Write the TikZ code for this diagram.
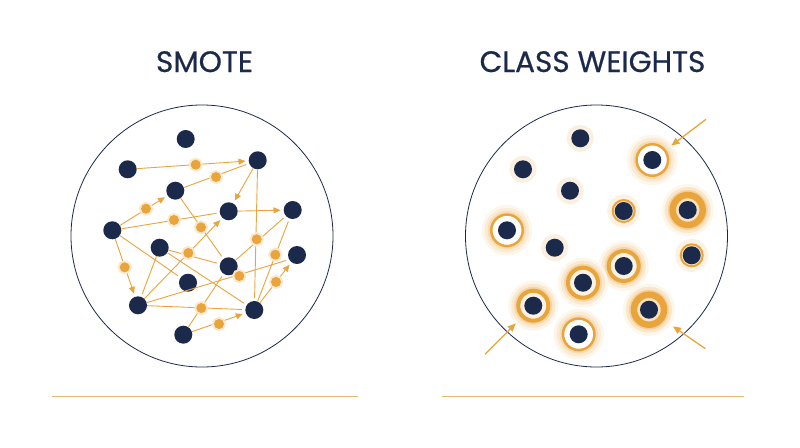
\documentclass[tikz,border=0pt]{standalone}
\usepackage{fontspec}
\setmainfont{Poppins}
\newfontfamily\titlefont[FakeBold=0.6]{Poppins}
\usetikzlibrary{arrows.meta}

\definecolor{navy}{RGB}{27,42,75}
\definecolor{gold}{RGB}{233,164,60}
\definecolor{rulecol}{RGB}{226,184,118}

\begin{document}
\begin{tikzpicture}[x=1pt, y=-1pt, >={Triangle[length=7pt,width=6pt]},
    title/.style={anchor=base, text=navy, font=\titlefont\fontsize{29.5}{34}\selectfont},
    frame/.style={draw=navy, line width=0.8pt},
    pt/.style={circle, fill=navy, inner sep=0pt, minimum size=18pt},
    syn/.style={circle, fill=gold, inner sep=0pt, minimum size=10pt, preaction={draw=gold!25, line width=4pt}},
    link/.style={color=gold, line width=0.9pt, shorten >=3pt},
    wdot/.style={pt, preaction={draw=gold!16, line width=9pt}},
    wpt/.style={circle, inner sep=0pt, draw=gold,
        path picture={\fill[navy] (path picture bounding box.center) circle (9pt);}},
    ringgap/.style={wpt, minimum size=31.5pt, fill=white, line width=2.5pt,
        preaction={draw=gold!10, line width=19pt}, preaction={draw=gold!22, line width=13pt},
        preaction={draw=gold!38, line width=7pt}},
    ringthin/.style={wpt, minimum size=22pt, fill=gold!25, line width=2pt,
        preaction={draw=gold!15, line width=11pt}},
    ringmid/.style={wpt, minimum size=30pt, fill=gold!14, line width=4pt,
        preaction={draw=gold!10, line width=20pt}, preaction={draw=gold!24, line width=14pt},
        preaction={draw=gold!45, line width=8pt}},
    ringthick/.style={wpt, minimum size=30pt, fill=gold!32, line width=6.5pt,
        preaction={draw=gold!10, line width=22pt}, preaction={draw=gold!26, line width=16pt},
        preaction={draw=gold!50, line width=10pt}},
    pointer/.style={color=gold, line width=1.3pt, >={Triangle[length=8pt,width=7pt]}}]

    \useasboundingbox (0,0) rectangle (800,447);

    % titles
    \node[title] (smote) at (204.5,72) {SMOTE};
    \node[title] (weights) at (592.5,72) {CLASS WEIGHTS};

    % frames and rules
    \draw[frame] (202,236) circle (131pt);
    \draw[frame] (596.5,236) circle (131pt);
    \draw[rulecol, line width=0.8pt] (52,396) -- (358,396);
    \draw[rulecol, line width=0.8pt] (442,396) -- (744,396);

    % SMOTE: minority samples
    \node[pt] (m1) at (185.7,139) {};
    \node[pt] (m2) at (127.7,169.3) {};
    \node[pt] (m3) at (257.7,160.3) {};
    \node[pt] (m4) at (175.3,190.7) {};
    \node[pt] (m5) at (228.7,211.3) {};
    \node[pt] (m6) at (292.7,210) {};
    \node[pt] (m7) at (112.3,230.3) {};
    \node[pt] (m8) at (159.7,247.7) {};
    \node[pt] (m9) at (228.7,266.3) {};
    \node[pt] (m10) at (297,255) {};
    \node[pt] (m11) at (188,282.7) {};
    \node[pt] (m12) at (138,305.3) {};
    \node[pt] (m13) at (254.3,310) {};
    \node[pt] (m14) at (183.3,334.7) {};

    \path[link]
        (m2) edge[->] (m3)
        (m4) edge (m3)
        (m3) edge[->] (m5)
             edge (m13)
        (m5) edge[->] (m6)
        (m7) edge[->] (m4)
             edge (m5)
             edge[->] (m12)
             edge (m11)
        (m4) edge (m9)
        (m8) edge (m9)
             edge (m13)
             edge (m12)
        (m12) edge[->] (m5)
              edge (m13)
              edge (m10.210)
        (m9) edge (m6)
        (m13) edge (m6)
              edge[->] (m10)
        (m14) edge (m9)
              edge[->] (m13);

    % synthetic samples
    \node[syn] (s1) at (195.7,164.7) {};
    \node[syn] (s2) at (216,177) {};
    \node[syn] (s3) at (146,208.7) {};
    \node[syn] (s4) at (174,220) {};
    \node[syn] (s5) at (201,227.3) {};
    \node[syn] (s6) at (188.3,253) {};
    \node[syn] (s7) at (256.7,239.3) {};
    \node[syn] (s8) at (275.3,254.7) {};
    \node[syn] (s9) at (124.7,267.3) {};
    \node[syn] (s10) at (239.3,276) {};
    \node[syn] (s11) at (276,282) {};
    \node[syn] (s12) at (201.3,308) {};
    \node[syn] (s13) at (219,324) {};

    % CLASS WEIGHTS: weighted samples
    \node[wdot] (c1) at (580.3,138.3) {};
    \node[wdot] (c2) at (523,169.3) {};
    \node[wdot] (c3) at (570,190.7) {};
    \node[wdot] (c4) at (554.7,247.7) {};
    \node[ringgap] (c5) at (652.3,160) {};
    \node[ringthin] (c6) at (623.7,211) {};
    \node[ringthick] (c7) at (687.7,210) {};
    \node[ringgap] (c8) at (507,230.3) {};
    \node[ringthin] (c9) at (691.7,255.3) {};
    \node[ringmid] (c10) at (623.7,266) {};
    \node[ringmid] (c11) at (583,282.7) {};
    \node[ringmid] (c12) at (533.3,305.7) {};
    \node[ringthick] (c13) at (649,309.7) {};
    \node[ringgap] (c14) at (578.7,334.3) {};

    \coordinate (p1) at (706,119.3);
    \coordinate (p2) at (485,354.3);
    \coordinate (p3) at (705.3,348.7);

    \path[pointer]
        (p1) edge[->, shorten >=7pt] (c5)
        (p2) edge[->, shorten >=8pt] (c12)
        (p3) edge[->, shorten >=11pt] (c13);
\end{tikzpicture}
\end{document}
